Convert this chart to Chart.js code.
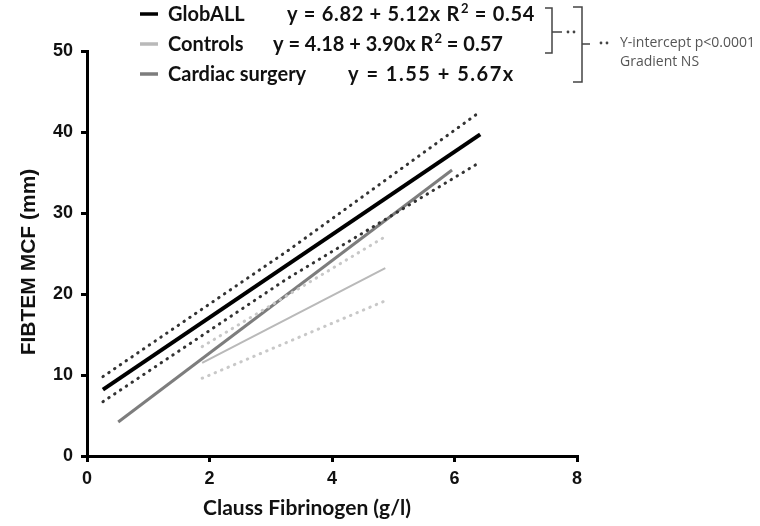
<!DOCTYPE html>
<html>
<head>
<meta charset="utf-8">
<script src="https://cdn.jsdelivr.net/npm/chart.js@4"></script>
<style>
  html, body { margin: 0; padding: 0; background: #fff; }
  #wrap { width: 760px; height: 526px; position: relative; }
</style>
</head>
<body>
<div id="wrap"><canvas id="myChart" width="760" height="526"></canvas></div>
<script>
"use strict";

// regression lines (x in g/l, y in mm)
const GLOBALL_X = [0.26, 6.42];
const GLOBALL_Y = [8.2, 39.7];
const GLOBALL_CI_X = [0.26, 3.27, 6.40];
const GLOBALL_UPPER = [9.8, 25.3, 42.4];
const GLOBALL_LOWER = [6.7, 21.9, 36.2];

const CONTROLS_X = [1.88, 4.87];
const CONTROLS_Y = [11.5, 23.2];
const CONTROLS_CI_X = [1.88, 4.85];
const CONTROLS_UPPER = [13.5, 27.0];
const CONTROLS_LOWER = [9.6, 19.1];

const CARDIAC_X = [0.51, 5.96];
const CARDIAC_Y = [4.2, 35.3];

const X_TICKS = [0, 2, 4, 6, 8];
const Y_TICKS = [0, 10, 20, 30, 40, 50];

const LEGEND_NAMES = ["GlobALL", "Controls", "Cardiac surgery"];
const LEGEND_EQS = ["y = 6.82 + 5.12x", "y = 4.18 + 3.90x", "y = 1.55 + 5.67x"];
const LEGEND_R2 = ["0.54", "0.57", null];
const NOTE_LINES = ["Y-intercept p<0.0001", "Gradient NS"];
const X_TITLE = "Clauss Fibrinogen (g/l)";
const Y_TITLE = "FIBTEM MCF (mm)";

const BLACK = "#000000";
const LIGHT = "#b9b9b9";
const MID = "#7d7d7d";
const LEGEND_FONT = "bold 20px Lato, 'Open Sans', sans-serif";
const AXIS_FONT = "'Liberation Sans', Arial, sans-serif";

function pts(xs, ys) {
    return xs.map((x, i) => ({x: x, y: ys[i]}));
}

function solid(label, xs, ys, color, width) {
    return {label: label, data: pts(xs, ys), borderColor: color, borderWidth: width,
        showLine: true, pointRadius: 0, borderCapStyle: "butt"};
}

function dotted(label, xs, ys, color) {
    return {label: label, data: pts(xs, ys), borderColor: color, borderWidth: 3,
        showLine: true, pointRadius: 0, borderDash: [0.5, 6.5], borderCapStyle: "round"};
}

// legend, axis titles and bracket notes drawn straight on the canvas
const notesPlugin = {
    id: "notes",
    afterDraw(chart) {
        const ctx = chart.ctx;
        const rows = [14, 44, 74];
        const eqX = [287, 273, 348];
        const spacing = ["0.7px", "0px", "1.5px"];
        const colors = [BLACK, LIGHT, MID];
        ctx.save();
        ctx.textBaseline = "middle";
        rows.forEach((y, i) => {
            ctx.strokeStyle = colors[i];
            ctx.lineWidth = 3.5;
            ctx.beginPath();
            ctx.moveTo(140, y);
            ctx.lineTo(158, y);
            ctx.stroke();
            ctx.fillStyle = "#111";
            ctx.font = LEGEND_FONT;
            ctx.letterSpacing = "0px";
            ctx.fillText(LEGEND_NAMES[i], 168, y + 1);
            ctx.letterSpacing = spacing[i];
            let x = eqX[i];
            ctx.fillText(LEGEND_EQS[i], x, y + 1);
            if (LEGEND_R2[i]) {
                x += ctx.measureText(LEGEND_EQS[i] + " ").width;
                ctx.fillText("R", x, y + 1);
                x += ctx.measureText("R").width;
                ctx.font = "bold 13px Lato, 'Open Sans', sans-serif";
                ctx.fillText("2", x + 1, y - 5);
                x += ctx.measureText("2").width + 1;
                ctx.font = LEGEND_FONT;
                ctx.fillText(" = " + LEGEND_R2[i], x, y + 1);
            }
        });
        ctx.letterSpacing = "0px";

        // axis titles
        ctx.textAlign = "center";
        ctx.font = "bold 21px Lato, 'Open Sans', sans-serif";
        ctx.fillText(X_TITLE, 307, 508);
        ctx.save();
        ctx.translate(29, 262);
        ctx.rotate(-Math.PI / 2);
        ctx.font = "bold 21px " + AXIS_FONT;
        ctx.fillText(Y_TITLE, 0, 0);
        ctx.restore();
        ctx.textAlign = "left";

        // brackets
        ctx.strokeStyle = "#444";
        ctx.lineWidth = 1.5;
        ctx.beginPath();
        ctx.moveTo(545, 8); ctx.lineTo(552, 8); ctx.lineTo(552, 53); ctx.lineTo(545, 53);
        ctx.moveTo(552, 32); ctx.lineTo(562, 32);
        ctx.moveTo(573, 7); ctx.lineTo(582, 7); ctx.lineTo(582, 82); ctx.lineTo(573, 82);
        ctx.moveTo(582, 44); ctx.lineTo(590, 44);
        ctx.stroke();
        ctx.fillStyle = "#444";
        [[568, 32], [574, 32], [601, 43], [607, 43]].forEach(p => {
            ctx.beginPath();
            ctx.arc(p[0], p[1], 1.4, 0, Math.PI * 2);
            ctx.fill();
        });
        ctx.fillStyle = "#555";
        ctx.font = "14px 'Open Sans', sans-serif";
        ctx.fillText(NOTE_LINES[0], 620, 43);
        ctx.fillText(NOTE_LINES[1], 620, 62);
        ctx.restore();
    }
};

document.addEventListener("DOMContentLoaded", init);

function init() {
    const data = {
        datasets: [
            dotted("GlobALL upper", GLOBALL_CI_X, GLOBALL_UPPER, "#333333"),
            dotted("GlobALL lower", GLOBALL_CI_X, GLOBALL_LOWER, "#333333"),
            dotted("Controls upper", CONTROLS_CI_X, CONTROLS_UPPER, "#c8c8c8"),
            dotted("Controls lower", CONTROLS_CI_X, CONTROLS_LOWER, "#c8c8c8"),
            solid("Controls", CONTROLS_X, CONTROLS_Y, LIGHT, 2),
            solid("Cardiac surgery", CARDIAC_X, CARDIAC_Y, MID, 3),
            solid("GlobALL", GLOBALL_X, GLOBALL_Y, BLACK, 4)
        ]
    };
    const config = {
        type: "scatter",
        data: data,
        options: {
            responsive: false,
            animation: false,
            layout: {padding: {left: 0, right: 183, top: 51, bottom: 0}},
            plugins: {legend: {display: false}, tooltip: {enabled: false}},
            scales: {
                x: {
                    type: "linear", min: 0, max: 8,
                    afterBuildTicks: s => { s.ticks = X_TICKS.map(v => ({value: v})); },
                    afterFit: s => { s.height = 70; },
                    border: {color: BLACK, width: 3},
                    grid: {drawOnChartArea: false, color: BLACK, lineWidth: 3, tickLength: 6},
                    ticks: {color: "#111", padding: 6, font: {family: AXIS_FONT, size: 18, weight: "bold"}}
                },
                y: {
                    type: "linear", min: 0, max: 50,
                    afterBuildTicks: s => { s.ticks = Y_TICKS.map(v => ({value: v})); },
                    afterFit: s => { s.width = 87; },
                    border: {color: BLACK, width: 3},
                    grid: {drawOnChartArea: false, color: BLACK, lineWidth: 3, tickLength: 6},
                    ticks: {color: "#111", padding: 8, font: {family: AXIS_FONT, size: 18, weight: "bold"}}
                }
            }
        },
        plugins: [notesPlugin]
    };
    new Chart(document.getElementById("myChart"), config);
}
</script>
</body>
</html>
